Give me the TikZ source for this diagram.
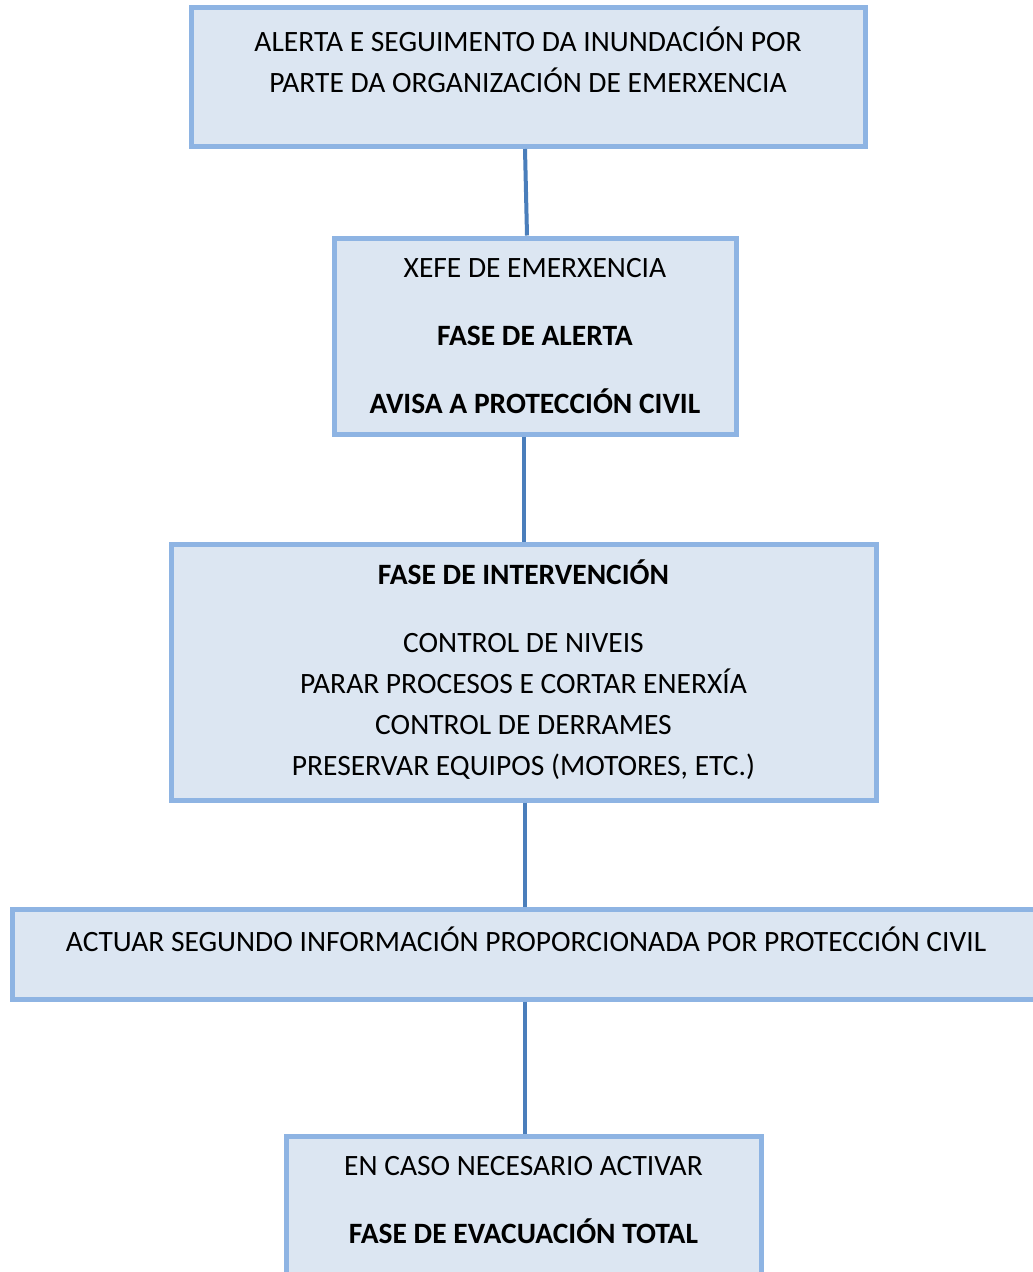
\documentclass[tikz,border=0pt]{standalone}
\usepackage{fontspec}
\setmainfont{Carlito}
\usepackage{xcolor}
\definecolor{boxfill}{HTML}{DCE6F2}
\definecolor{boxline}{HTML}{8EB4E3}
\definecolor{linkline}{HTML}{4A7EBB}

\begin{document}
\begin{tikzpicture}[x=1pt,y=-1pt,
    every node/.style={align=center,font=\fontsize{29.5}{41}\selectfont},
    box/.style={draw=boxline,fill=boxfill,line width=5pt,inner sep=0pt},
    link/.style={draw=linkline,line width=4pt}]
  \useasboundingbox (0,0) rectangle (1033,1272);
  \clip (0,0) rectangle (1033,1272);
      \node[box,minimum width=674,minimum height=139,text depth=34pt] (alerta) at (528,77)
        {ALERTA E SEGUIMENTO DA INUNDACIÓN POR\\PARTE DA ORGANIZACIÓN DE EMERXENCIA};
      \node[box,minimum width=402,minimum height=196] (xefe) at (535,336)
        {XEFE DE EMERXENCIA\\[27pt]\textbf{FASE DE ALERTA}\\[27pt]\textbf{AVISA A PROTECCIÓN CIVIL}};
      \node[box,minimum width=705,minimum height=256,text depth=8pt] (interv) at (523.5,672)
        {\textbf{FASE DE INTERVENCIÓN}\\[27pt]CONTROL DE NIVEIS\\PARAR PROCESOS E CORTAR ENERXÍA\\
         CONTROL DE DERRAMES\\PRESERVAR EQUIPOS (MOTORES, ETC.)};
      \node[box,minimum width=1028,minimum height=90,text depth=30pt] (actuar) at (526,954)
        {ACTUAR SEGUNDO INFORMACIÓN PROPORCIONADA POR PROTECCIÓN CIVIL};
      \node[box,minimum width=475,minimum height=154,text depth=26pt] (evac) at (523.5,1213)
        {EN CASO NECESARIO ACTIVAR\\[27pt]\textbf{FASE DE EVACUACIÓN TOTAL}};
      % connectors between the boxes
      \draw[link] ([xshift=-3pt]alerta.south) -- ([xshift=-8pt]xefe.north);
      \draw[link] ([xshift=-11pt]xefe.south) -- ([xshift=0.5pt]interv.north);
      \draw[link] ([xshift=1.5pt]interv.south) -- ([xshift=-1pt]actuar.north);
      \draw[link] ([xshift=-1pt]actuar.south) -- ([xshift=1.5pt]evac.north);
\end{tikzpicture}
\end{document}
